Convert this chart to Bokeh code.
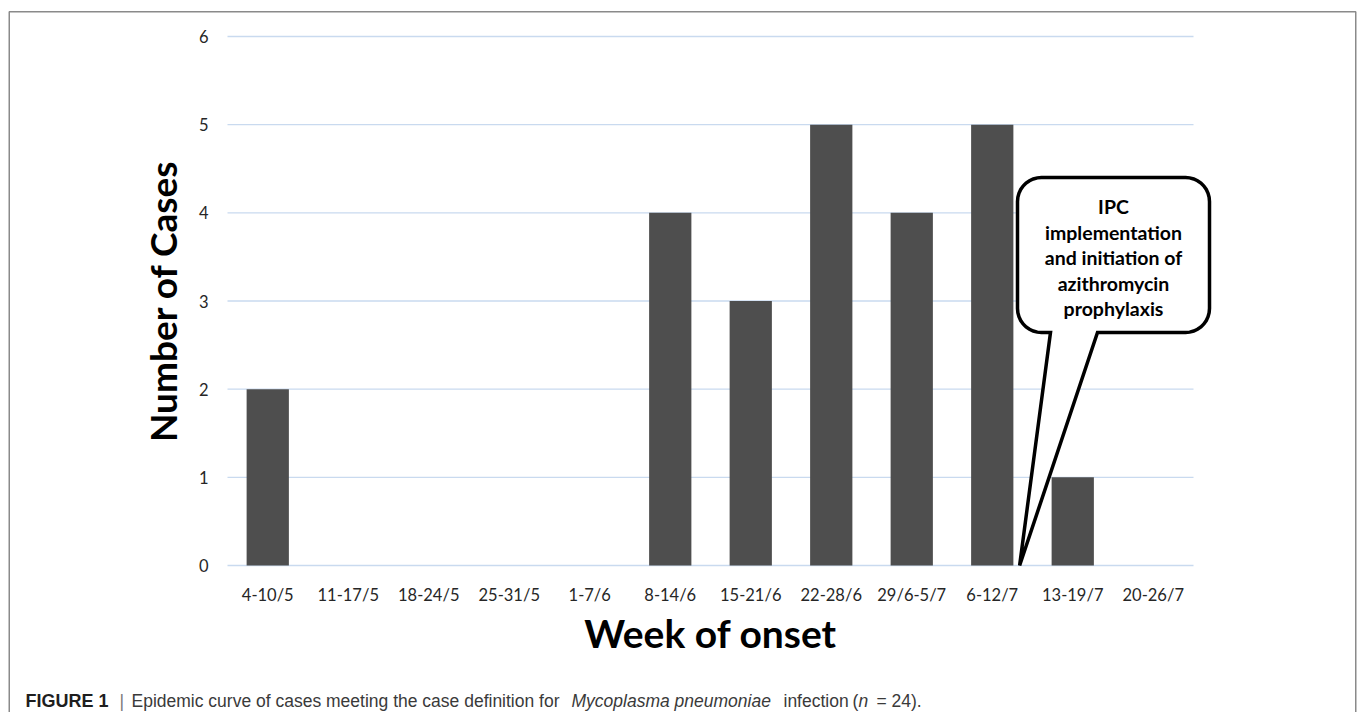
import numpy as np
from bokeh.plotting import figure
from bokeh.models import Range1d, FixedTicker
from bokeh.core.properties import value
from bokeh.embed import file_html
from bokeh.resources import INLINE

# ---------------- data ----------------
weeks = ["4-10/5", "11-17/5", "18-24/5", "25-31/5", "1-7/6", "8-14/6",
         "15-21/6", "22-28/6", "29/6-5/7", "6-12/7", "13-19/7", "20-26/7"]
cases = [2, 0, 0, 0, 0, 4, 3, 5, 4, 5, 1, 0]
y_ticks = [0, 1, 2, 3, 4, 5, 6]
callout_lines = ["IPC", "implementation", "and initiation of",
                 "azithromycin", "prophylaxis"]
x_title = "Week of onset"
y_title = "Number of Cases"
caption_parts = ["FIGURE 1", "|", "Epidemic curve of cases meeting the case definition for",
                 "Mycoplasma pneumoniae", "infection", "(", "n", "= 24)."]

# ---------------- layout (canvas px) ----------------
W, H = 1357, 712
PL, PR, PT, PB = 227, 1193, 36, 565        # plot area: x 0..12, y 0..6
SX = (PR - PL) / len(weeks)                 # px per category
SY = (PB - PT) / max(y_ticks)               # px per case


def dx(px):   # canvas px -> data x
    return (px - PL) / SX


def dy(py):   # canvas px -> data y
    return (PB - py) / SY


FONT = "Lato"
FRAME_COLOR = "#8a8a8a"

p = figure(width=W, height=H, x_range=Range1d(dx(0), dx(W)), y_range=Range1d(dy(H), dy(0)),
           output_backend="svg", toolbar_location=None,
           min_border=0, min_border_left=0, min_border_right=0,
           min_border_top=0, min_border_bottom=0)
p.outline_line_color = None
p.background_fill_color = "white"
p.border_fill_color = "white"
p.xgrid.visible = False
p.ygrid.visible = False

xs = [i + 0.5 for i in range(len(weeks))]

# horizontal grid lines over the category span
p.segment(x0=[0] * len(y_ticks), x1=[len(weeks)] * len(y_ticks), y0=y_ticks, y1=y_ticks,
          line_color="#c9daef", line_width=1.3)

# bars
p.vbar(x=xs, top=cases, width=0.525, fill_color="#4e4e4e", line_color=None)

# axes, pinned to the plot area's edges
p.xaxis.ticker = FixedTicker(ticks=xs)
p.xaxis.major_label_overrides = {x: w for x, w in zip(xs, weeks)}
p.yaxis.ticker = FixedTicker(ticks=y_ticks)
p.xaxis.fixed_location = 0
p.yaxis.fixed_location = 0
p.xaxis.bounds = (0, len(weeks))
p.yaxis.bounds = (0, max(y_ticks))
for ax in (p.xaxis[0], p.yaxis[0]):
    ax.axis_line_color = None
    ax.major_tick_line_color = None
    ax.minor_tick_line_color = None
    ax.major_tick_out = 0
    ax.major_tick_in = 0
    ax.major_label_text_font = FONT
    ax.major_label_text_font_size = "16.5px"
    ax.major_label_text_color = "#262626"
    ax.axis_label_text_font = FONT
    ax.axis_label_text_font_style = "bold"
    ax.axis_label_text_color = "black"
p.xaxis.axis_label_text_font_size = "39px"
p.yaxis.axis_label_text_font_size = "37px"
p.xaxis.major_label_standoff = 19
p.yaxis.major_label_standoff = 19
p.xaxis.axis_label = x_title
p.yaxis.axis_label = y_title
p.xaxis.axis_label_standoff = 2
p.yaxis.axis_label_standoff = 11

# ---------------- callout (speech bubble), canvas px ----------------
L, R, T, B, r = 1017, 1209, 177, 332, 24
tip_x = PL + (weeks.index("6-12/7") + 0.84) * SX     # just right of the 6-12/7 bar
tip_y = PB
base_r, base_l = 1097, 1050


def arc(cx, cy, a0, a1, n=10):
    a = np.radians(np.linspace(a0, a1, n))
    return list(cx + r * np.cos(a)), list(cy - r * np.sin(a))


px, py = [], []


def add(xx, yy):
    px.extend(xx)
    py.extend(yy)


add([L + r, R - r], [T, T])
add(*arc(R - r, T + r, 90, 0))
add([R, R], [T + r, B - r])
add(*arc(R - r, B - r, 0, -90))
add([base_r, tip_x, base_l], [B, tip_y, B])
add([L + r], [B])
add(*arc(L + r, B - r, -90, -180))
add([L, L], [B - r, T + r])
add(*arc(L + r, T + r, 180, 90))

p.patch([dx(x) for x in px], [dy(y) for y in py], fill_color="white",
        line_color="black", line_width=3.5, line_join="miter")

line_y_px = [206, 232, 257, 283, 308]
p.text(x=[dx((L + R) / 2)] * len(callout_lines), y=[dy(y) for y in line_y_px],
       text=callout_lines, text_font=value(FONT), text_font_style="bold",
       text_font_size="19.5px", text_align="center", text_baseline="middle",
       text_color="black")

# ---------------- figure frame line ----------------
fx0, fx1, fy0, fy1 = 8.75, 1355.25, 11.25, H + 5
p.multi_line(xs=[[dx(fx0), dx(fx0), dx(fx1), dx(fx1)]],
             ys=[[dy(fy1), dy(fy0), dy(fy0), dy(fy1)]],
             line_color=FRAME_COLOR, line_width=1.5)

# ---------------- caption ----------------
cap_x = [25, 119, 131, 571, 783, 852, 858, 876]
cap_size = ["18px"] + ["17.5px"] * 7
cap_style = ["bold", "normal", "normal", "italic", "normal", "normal", "italic", "normal"]
cap_color = ["#1e1e1e", "#7a7a7a"] + ["#3a3a3a"] * 6
for txt, x, sz, st, col in zip(caption_parts, cap_x, cap_size, cap_style, cap_color):
    p.text(x=[dx(x)], y=[dy(700)], text=[txt], text_font=value("Liberation Sans"),
           text_font_size=sz, text_font_style=st, text_color=col,
           text_align="left", text_baseline="alphabetic")

open("out.html", "w").write(file_html(p, INLINE))
